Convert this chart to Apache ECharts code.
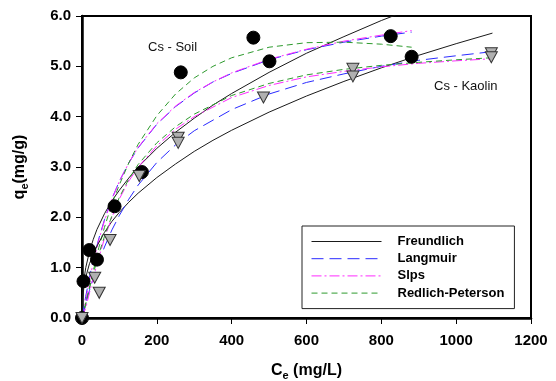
<!DOCTYPE html>
<html>
<head>
<meta charset="utf-8">
<script src="https://cdn.jsdelivr.net/npm/echarts@6/dist/echarts.min.js"></script>
<style>
  html, body { margin: 0; padding: 0; background: #fff; }
  #chart { width: 556px; height: 381px; }
</style>
</head>
<body>
<div id="chart"></div>
<script>
// Axis ticks
const xTicks = [0, 200, 400, 600, 800, 1000, 1200];
const yTicks = [0, 1, 2, 3, 4, 5, 6];

// Measured equilibrium data, [Ce (mg/L), qe (mg/g)]
const soilPoints = [[0, 0], [4, 0.73], [19.5, 1.35], [40, 1.16], [87, 2.22], [160, 2.9],
  [264, 4.88], [458, 5.57], [501, 5.1], [825, 5.6], [881, 5.19]];
const kaolinPoints = [[0, 0], [34, 0.8], [46, 0.5], [75, 1.55], [153, 2.82],
  [257, 3.58], [257, 3.48], [485, 4.38], [724, 4.95], [724, 4.8], [1094, 5.26], [1094, 5.18]];

// Isotherm model curves, Cs on soil
const soilFreundlich = [[0, 0], [1, 0.39], [2, 0.52], [5, 0.76], [10, 1.0], [20, 1.32], [30, 1.56],
  [40, 1.76], [60, 2.07], [80, 2.33], [100, 2.54], [125, 2.78], [150, 3.0], [200, 3.37],
  [250, 3.69], [300, 3.97], [350, 4.23], [400, 4.46], [500, 4.88], [600, 5.26], [700, 5.59],
  [800, 5.91], [880, 6.14]];
const soilLangmuir = [[0, 0], [5, 0.22], [10, 0.43], [20, 0.81], [30, 1.15], [45, 1.58],
  [60, 1.95], [80, 2.37], [100, 2.72], [125, 3.08], [150, 3.38], [200, 3.85], [250, 4.2],
  [300, 4.47], [350, 4.69], [400, 4.86], [500, 5.13], [600, 5.33], [700, 5.48], [800, 5.6],
  [881, 5.68]];
const soilSlps = [[0, 0], [5, 0.15], [10, 0.35], [20, 0.75], [30, 1.1], [45, 1.55], [60, 1.93],
  [80, 2.36], [100, 2.72], [125, 3.08], [150, 3.39], [200, 3.86], [250, 4.21], [300, 4.48],
  [350, 4.69], [400, 4.87], [500, 5.14], [600, 5.34], [700, 5.5], [800, 5.62], [881, 5.71]];
const soilRedlichPeterson = [[0, 0], [5, 0.12], [10, 0.27], [20, 0.6], [30, 0.93], [45, 1.4],
  [60, 1.8], [80, 2.27], [100, 2.65], [125, 3.08], [150, 3.45], [200, 4.02], [250, 4.45],
  [300, 4.77], [350, 5.0], [400, 5.17], [500, 5.38], [600, 5.47], [700, 5.48], [800, 5.44],
  [881, 5.38]];

// Isotherm model curves, Cs on kaolin
const kaolinFreundlich = [[0, 0], [2, 0.41], [5, 0.6], [10, 0.81], [20, 1.08], [40, 1.43],
  [60, 1.7], [80, 1.92], [100, 2.1], [125, 2.3], [150, 2.48], [200, 2.79], [250, 3.06],
  [300, 3.31], [350, 3.53], [400, 3.73], [500, 4.09], [600, 4.41], [700, 4.7], [800, 4.97],
  [900, 5.22], [1000, 5.45], [1097, 5.66]];
const kaolinLangmuir = [[0, 0], [10, 0.29], [20, 0.55], [30, 0.79], [45, 1.12], [60, 1.41],
  [80, 1.75], [100, 2.04], [125, 2.36], [150, 2.64], [200, 3.09], [250, 3.44], [300, 3.72],
  [400, 4.14], [500, 4.45], [600, 4.68], [700, 4.85], [800, 5.0], [900, 5.12], [1000, 5.21],
  [1094, 5.29]];
const kaolinSlps = [[0, 0], [10, 0.2], [20, 0.5], [30, 0.8], [45, 1.2], [60, 1.58], [80, 2.0],
  [100, 2.37], [125, 2.72], [150, 3.0], [200, 3.42], [250, 3.75], [300, 4.0], [400, 4.38],
  [500, 4.62], [600, 4.79], [700, 4.9], [800, 4.99], [900, 5.06], [1000, 5.11], [1094, 5.15]];
const kaolinRedlichPeterson = [[0, 0], [10, 0.3], [20, 0.6], [30, 0.88], [45, 1.27], [60, 1.62],
  [80, 2.03], [100, 2.4], [125, 2.76], [150, 3.05], [200, 3.48], [250, 3.8], [300, 4.05],
  [400, 4.42], [500, 4.66], [600, 4.83], [700, 4.94], [800, 5.02], [900, 5.08], [1000, 5.13],
  [1094, 5.17]];

const FONT = 'Arial, "Liberation Sans", sans-serif';

const models = {
  'Freundlich':       { color: '#1a1a1a', type: 'solid' },
  'Langmuir':         { color: '#2b2bff', type: [12, 6] },
  'Slps':             { color: '#ff2bff', type: [10, 3, 2, 3] },
  'Redlich-Peterson': { color: '#2e9a2e', type: [6, 4] }
};

function curve(name, data) {
  const m = models[name];
  return {
    name: name,
    type: 'line',
    data: data,
    smooth: false,
    symbol: 'none',
    z: 2,
    lineStyle: { color: m.color, width: 1, type: m.type },
    itemStyle: { color: m.color }
  };
}

const chart = echarts.init(document.getElementById('chart'), null, { renderer: 'canvas' });

chart.setOption({
  animation: false,
  backgroundColor: '#fff',
  grid: {
    left: 82, top: 16, right: 25, bottom: 63,
    outerBoundsMode: 'none',
    containLabel: false,
    show: true, borderColor: '#000', borderWidth: 2, backgroundColor: 'transparent'
  },
  xAxis: {
    type: 'value',
    min: xTicks[0], max: xTicks[xTicks.length - 1], interval: 200,
    axisLine: { show: true, onZero: false, lineStyle: { color: '#000', width: 2.5 } },
    axisTick: { show: true, inside: false, length: 6, lineStyle: { color: '#000', width: 1 } },
    splitLine: { show: false },
    axisLabel: {
      color: '#000', fontFamily: FONT, fontWeight: 'bold', fontSize: 15, margin: 15,
      formatter: v => String(v)
    },
    name: '{c|C}{e|e}{c| (mg/L)}',
    nameLocation: 'middle',
    nameGap: 43,
    nameTextStyle: {
      rich: {
        c: { fontFamily: FONT, fontWeight: 'bold', fontSize: 16, color: '#000' },
        e: { fontFamily: FONT, fontWeight: 'bold', fontSize: 11, color: '#000', padding: [9, 0, 0, 0] }
      }
    }
  },
  yAxis: {
    type: 'value',
    min: yTicks[0], max: yTicks[yTicks.length - 1], interval: 1,
    axisLine: { show: true, onZero: false, lineStyle: { color: '#000', width: 2.5 } },
    axisTick: { show: true, inside: false, length: 6, lineStyle: { color: '#000', width: 1 } },
    splitLine: { show: false },
    axisLabel: {
      color: '#000', fontFamily: FONT, fontWeight: 'bold', fontSize: 15, margin: 11,
      formatter: v => v.toFixed(1)
    },
    name: '{q|q}{e|e}{q|(mg/g)}',
    nameLocation: 'middle',
    nameGap: 52,
    nameRotate: 90,
    nameTextStyle: {
      rich: {
        q: { fontFamily: FONT, fontWeight: 'bold', fontSize: 16, color: '#000' },
        e: { fontFamily: FONT, fontWeight: 'bold', fontSize: 11, color: '#000', padding: [9, 0, 0, 0] }
      }
    }
  },
  legend: {
    data: Object.keys(models),
    orient: 'vertical',
    left: 302, top: 226,
    padding: [9, 10, 9, 9],
    itemWidth: 70, itemHeight: 14, itemGap: 4.2,
    borderColor: '#222', borderWidth: 1,
    backgroundColor: '#fff',
    itemStyle: { opacity: 0 },
    lineStyle: { width: 1 },
    textStyle: { fontFamily: FONT, fontWeight: 'bold', fontSize: 13, color: '#000', padding: [0, 0, 0, 11] }
  },
  graphic: [
    { type: 'text', left: 148, top: 41, style: { text: 'Cs - Soil', fontFamily: FONT, fontSize: 13, fill: '#111' } },
    { type: 'text', left: 434, top: 80, style: { text: 'Cs - Kaolin', fontFamily: FONT, fontSize: 13, fill: '#111' } }
  ],
  series: [
    curve('Freundlich', soilFreundlich),
    curve('Langmuir', soilLangmuir),
    curve('Slps', soilSlps),
    curve('Redlich-Peterson', soilRedlichPeterson),
    curve('Freundlich', kaolinFreundlich),
    curve('Langmuir', kaolinLangmuir),
    curve('Slps', kaolinSlps),
    curve('Redlich-Peterson', kaolinRedlichPeterson),
    {
      name: 'Cs - Soil',
      type: 'scatter',
      data: soilPoints,
      symbol: 'circle',
      symbolSize: 13,
      z: 4,
      itemStyle: { color: '#000', borderColor: '#000', borderWidth: 1, opacity: 1 }
    },
    {
      name: 'Cs - Kaolin',
      type: 'scatter',
      data: kaolinPoints,
      symbol: 'triangle',
      symbolRotate: 180,
      symbolSize: [12, 11],
      z: 5,
      itemStyle: { color: '#b0b0b0', borderColor: '#333', borderWidth: 1, opacity: 1 }
    }
  ]
});
</script>
</body>
</html>
